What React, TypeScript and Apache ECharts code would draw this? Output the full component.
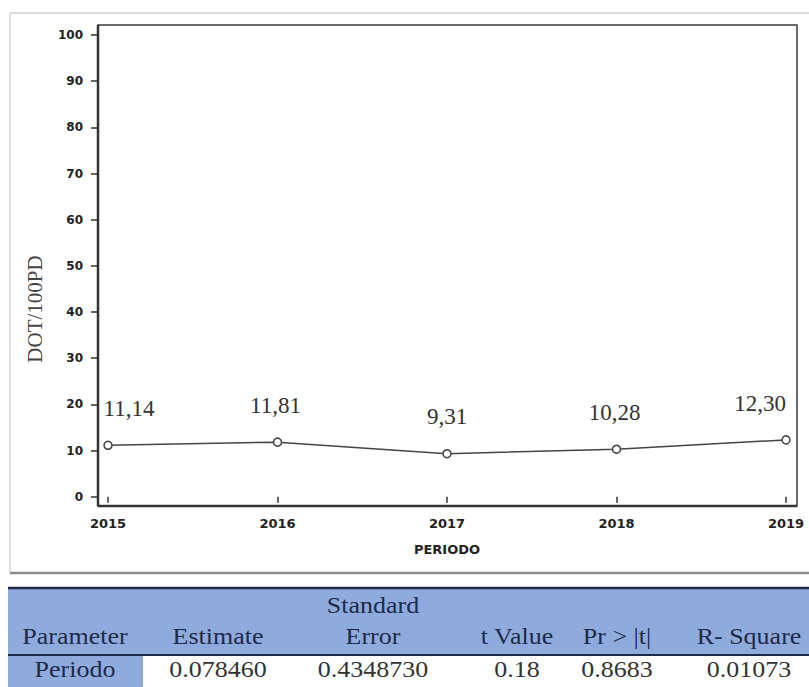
import React, { useEffect, useRef } from "react";
import * as echarts from "echarts";

// Yearly values of DOT/100PD
const years = [2015, 2016, 2017, 2018, 2019];
const dotRate = [11.14, 11.81, 9.31, 10.28, 12.3];

// Regression summary table
const headerTop = ["", "", "Standard", "", "", ""];
const headerMain = ["Parameter", "Estimate", "Error", "t Value", "Pr > |t|", "R- Square"];
const rowValues = ["Periodo", "0.078460", "0.4348730", "0.18", "0.8683", "0.01073"];

const W = 809;
const H = 687;

// per-point label nudges so the outer labels stay inside the frame
const labelNudge = [21, -2, 0, -2, -26];

const fmtComma = (v: number) => v.toFixed(2).replace(".", ",");

export default function App() {
  const ref = useRef<HTMLDivElement>(null);

  useEffect(() => {
    if (!ref.current) return;
    const chart = echarts.init(ref.current, undefined, { renderer: "svg" });

    const plot = { x0: 98, y0: 25, x1: 797, y1: 506 };
    const colX = [75, 218, 373, 517, 617, 749];
    const navy = "#1d2a48";
    const blue = "#8faadc";
    const serif = "'Liberation Serif', 'Times New Roman', serif";

    const tableTexts: any[] = [];
    const cell = (t: string, x: number, y: number, fill: string) => ({
      type: "text", x, y, scaleX: 1.13,
      style: { text: t, textAlign: "center", textVerticalAlign: "bottom", font: `23px ${serif}`, fill },
    });
    headerTop.forEach((t, i) => {
      if (t) tableTexts.push(cell(t, colX[i], 617, navy));
    });
    headerMain.forEach((t, i) => tableTexts.push(cell(t, colX[i], 648, navy)));
    rowValues.forEach((t, i) => tableTexts.push(cell(t, colX[i], 681, i === 0 ? navy : "#333")));

    chart.setOption({
      animation: false,
      backgroundColor: "#ffffff",
      grid: { left: 108, right: W - 786, top: 35, bottom: H - 496.7 },
      xAxis: {
        type: "value",
        min: 2015,
        max: 2019,
        interval: 1,
        offset: 9,
        splitLine: { show: false },
        axisLine: { show: false },
        axisTick: { show: true, length: 6, lineStyle: { color: "#333", width: 1.5 } },
        axisLabel: {
          margin: 11,
          formatter: (v: number) => String(v),
          fontFamily: "'DejaVu Sans', sans-serif",
          fontWeight: "bold",
          fontSize: 13,
          color: "#222",
        },
        name: "PERIODO",
        nameLocation: "middle",
        nameGap: 37,
        nameTextStyle: { fontFamily: "'DejaVu Sans', sans-serif", fontWeight: "bold", fontSize: 13, color: "#222" },
      },
      yAxis: {
        type: "value",
        min: 0,
        max: 100,
        interval: 10,
        offset: 10,
        splitLine: { show: false },
        axisLine: { show: false },
        axisTick: { show: true, length: 7, lineStyle: { color: "#333", width: 1.5 } },
        axisLabel: {
          margin: 15,
          fontFamily: "'DejaVu Sans', sans-serif",
          fontWeight: "bold",
          fontSize: 12,
          color: "#222",
        },
      },
      series: [
        {
          type: "line",
          data: years.map((y, i) => ({
            value: [y, dotRate[i]],
            label: { offset: [labelNudge[i], 0] },
          })),
          symbol: "circle",
          symbolSize: 8,
          itemStyle: { color: "#ffffff", borderColor: "#444", borderWidth: 1.5 },
          lineStyle: { color: "#444", width: 1.5 },
          label: {
            show: true,
            position: "top",
            distance: 20,
            fontFamily: serif,
            fontSize: 23,
            lineHeight: 24,
            color: "#333",
            formatter: (p: any) => fmtComma(p.value[1]),
          },
          z: 5,
        },
      ],
      graphic: [
        // outer panel border
        { type: "line", shape: { x1: 10, y1: 13, x2: W, y2: 13 }, style: { stroke: "#cfcfcf", lineWidth: 1.5 } },
        { type: "line", shape: { x1: 10, y1: 13, x2: 10, y2: 573 }, style: { stroke: "#d6d6d6", lineWidth: 1.5 } },
        { type: "line", shape: { x1: 10, y1: 573, x2: W, y2: 573 }, style: { stroke: "#8c8c8c", lineWidth: 2.5 } },
        // plot frame
        {
          type: "rect",
          shape: { x: plot.x0, y: plot.y0, width: plot.x1 - plot.x0, height: plot.y1 - plot.y0 },
          style: { fill: "none", stroke: "#3a3a3a", lineWidth: 1.5 },
        },
        { type: "line", shape: { x1: plot.x0, y1: plot.y0, x2: plot.x0, y2: plot.y1 }, style: { stroke: "#333", lineWidth: 2.5 } },
        { type: "line", shape: { x1: plot.x0, y1: plot.y1, x2: plot.x1, y2: plot.y1 }, style: { stroke: "#333", lineWidth: 2.5 } },
        // y-axis title
        {
          type: "text",
          x: 35,
          y: 309,
          rotation: Math.PI / 2,
          style: { text: "DOT/100PD", textAlign: "center", textVerticalAlign: "middle", font: `21px ${serif}`, fill: "#444" },
        },
        // summary table
        { type: "rect", shape: { x: 8, y: 588, width: W - 8, height: 67 }, style: { fill: blue } },
        { type: "rect", shape: { x: 8, y: 655, width: 135, height: H - 655 }, style: { fill: blue } },
        { type: "line", shape: { x1: 8, y1: 588, x2: W, y2: 588 }, style: { stroke: navy, lineWidth: 2.5 } },
        { type: "line", shape: { x1: 8, y1: 655, x2: W, y2: 655 }, style: { stroke: navy, lineWidth: 2 } },
        ...tableTexts,
      ],
    });

    return () => chart.dispose();
  }, []);

  return (
    <div
      ref={ref}
      style={{ position: "fixed", left: 0, top: 0, width: W, height: H, background: "#fff" }}
    />
  );
}
